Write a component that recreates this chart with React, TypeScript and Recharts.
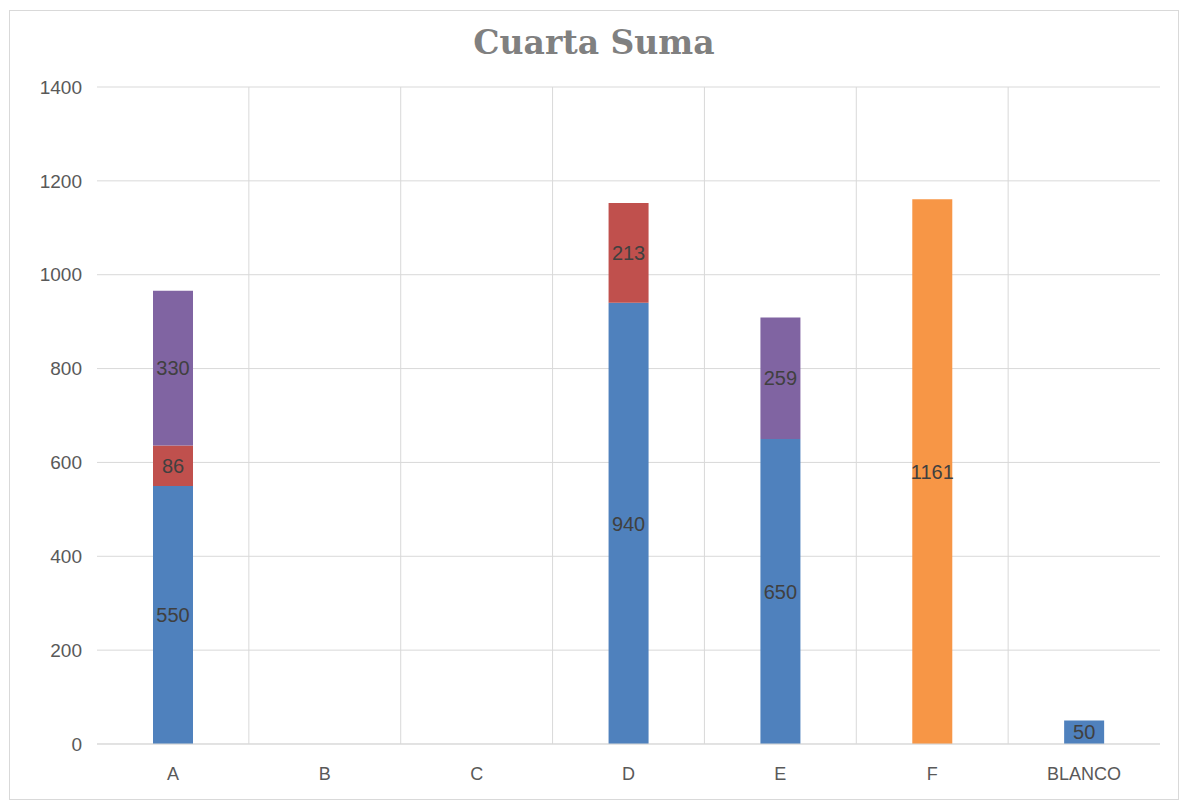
import React from 'react';
import { BarChart, Bar, XAxis, YAxis, CartesianGrid, LabelList } from 'recharts';

const categories = ['A', 'B', 'C', 'D', 'E', 'F', 'BLANCO'];
const serieAzul = [550, null, null, 940, 650, null, 50];
const serieRoja = [86, null, null, 213, null, null, null];
const serieMorada = [330, null, null, null, 259, null, null];
const serieNaranja = [null, null, null, null, null, 1161, null];
const yTicks = [0, 200, 400, 600, 800, 1000, 1200, 1400];

const data = categories.map((c, i) => ({
  name: c,
  azul: serieAzul[i],
  roja: serieRoja[i],
  morada: serieMorada[i],
  naranja: serieNaranja[i],
}));

const FONT = '"Liberation Sans", Arial, sans-serif';
const GRID = '#d9d9d9';

const labelStyle = { fill: '#404040', fontSize: 20, fontFamily: FONT };
const fmt = (v: any) => (v == null || v === 0 ? '' : v);

// vertical grid lines go between categories, not through them
const betweenCats = ({ offset }: any) => {
  const step = offset.width / categories.length;
  const out: number[] = [];
  for (let i = 1; i < categories.length; i++) out.push(offset.left + i * step);
  return out;
};

export default function App() {
  return (
    <div
      style={{
        position: 'relative',
        width: 1168,
        height: 788,
        border: `1px solid ${GRID}`,
        marginLeft: 1,
        marginTop: 2,
        background: '#fff',
      }}
    >
      <div
        style={{
          position: 'absolute',
          top: 12,
          left: 0,
          width: '100%',
          textAlign: 'center',
          fontFamily: '"DejaVu Serif", serif',
          fontWeight: 'bold',
          fontSize: 33,
          color: '#808080',
        }}
      >
        Cuarta Suma
      </div>
      <BarChart
        width={1168}
        height={788}
        data={data}
        margin={{ top: 76, right: 18, left: 27, bottom: 25 }}
      >
        <CartesianGrid stroke={GRID} verticalCoordinatesGenerator={betweenCats} />
        <XAxis
          dataKey="name"
          axisLine={{ stroke: GRID }}
          tickLine={false}
          height={30}
          tickMargin={17}
          tick={{ fill: '#595959', fontSize: 18, fontFamily: FONT }}
        />
        <YAxis
          width={60}
          domain={[0, 1400]}
          ticks={yTicks}
          axisLine={false}
          tickLine={false}
          tickMargin={9}
          tick={{ fill: '#595959', fontSize: 19, fontFamily: FONT }}
        />
        <Bar dataKey="azul" stackId="s" fill="#4f81bd" barSize={40} isAnimationActive={false}>
          <LabelList dataKey="azul" position="center" formatter={fmt} style={labelStyle} />
        </Bar>
        <Bar dataKey="roja" stackId="s" fill="#c0504d" barSize={40} isAnimationActive={false}>
          <LabelList dataKey="roja" position="center" formatter={fmt} style={labelStyle} />
        </Bar>
        <Bar dataKey="morada" stackId="s" fill="#8064a2" barSize={40} isAnimationActive={false}>
          <LabelList dataKey="morada" position="center" formatter={fmt} style={labelStyle} />
        </Bar>
        <Bar dataKey="naranja" stackId="s" fill="#f79646" barSize={40} isAnimationActive={false}>
          <LabelList dataKey="naranja" position="center" formatter={fmt} style={labelStyle} />
        </Bar>
      </BarChart>
    </div>
  );
}
